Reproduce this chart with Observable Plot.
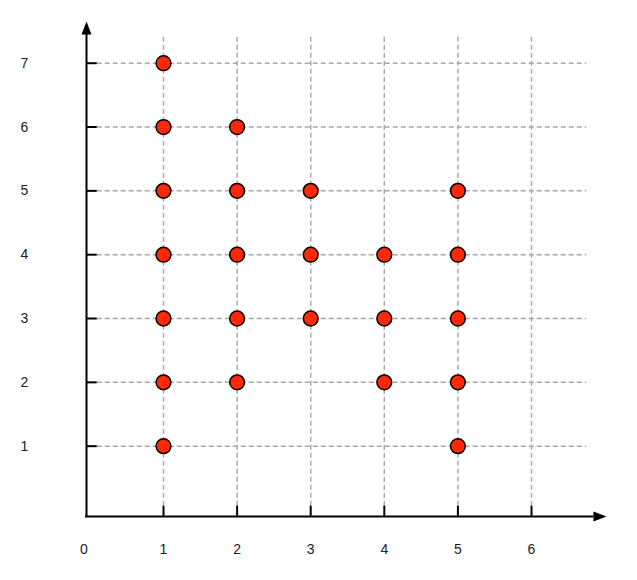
<!DOCTYPE html>
<html>
<head>
<meta charset="utf-8">
<script src="https://cdn.jsdelivr.net/npm/d3@7"></script>
<script src="https://cdn.jsdelivr.net/npm/@observablehq/plot@0.6"></script>
<style>
  html, body { margin: 0; padding: 0; background: #fff; }
  #chart svg { display: block; }
</style>
</head>
<body>
<div id="chart"></div>
<script>
// Data
const pointX = [1,1,1,1,1,1,1, 2,2,2,2,2, 3,3,3, 4,4,4, 5,5,5,5,5];
const pointY = [1,2,3,4,5,6,7, 2,3,4,5,6, 3,4,5, 2,3,4, 1,2,3,4,5];
const xTickLabels = [0, 1, 2, 3, 4, 5, 6];
const yTickLabels = [1, 2, 3, 4, 5, 6, 7];

const points = pointX.map((x, i) => ({x, y: pointY[i]}));
const xGridTicks = xTickLabels.filter(d => d !== 0);
const xZero = xTickLabels.filter(d => d === 0);

// Filled triangle symbol for axis arrows (fixed size)
const arrowHead = {
  draw(context) {
    context.moveTo(0, -6.5);
    context.lineTo(5, 6.5);
    context.lineTo(-5, 6.5);
    context.closePath();
  }
};

const gridStyle = {stroke: "#a8a8a8", strokeWidth: 1.5, strokeDasharray: "5,3"};
const axisColor = "#000";
const axisDx = -3.4;

const chart = Plot.plot({
  width: 637,
  height: 580,
  marginLeft: 89.4,
  marginRight: 32.4,
  marginTop: 62.7,
  marginBottom: 70.5,
  x: {domain: [0, 7], axis: null},
  y: {domain: [0, 7], axis: null},
  style: {fontFamily: "'Liberation Sans', Arial, Helvetica, sans-serif", fontSize: "14px", background: "#fff"},
  marks: [
    // grid
    Plot.ruleY(yTickLabels, {y: d => d, x1: 0.1, x2: 6.75, ...gridStyle}),
    Plot.ruleX(xGridTicks, {x: d => d, y1: 0.06, y2: 7.42, ...gridStyle}),
    // axis lines
    Plot.ruleX([0], {x: d => d, y1: -0.1, y2: 7.45, dx: axisDx, stroke: axisColor, strokeWidth: 2}),
    Plot.ruleY([0], {y: d => d - 0.1, x1: -0.06, x2: 6.85, stroke: axisColor, strokeWidth: 2}),
    // ticks
    Plot.ruleY(yTickLabels, {y: d => d, x1: -0.046, x2: 0.1, stroke: axisColor, strokeWidth: 2}),
    Plot.ruleX(xGridTicks, {x: d => d, y1: -0.1, y2: 0.06, stroke: axisColor, strokeWidth: 2}),
    // arrows
    Plot.dot([0], {x: d => d, y: 7.55, dx: axisDx, symbol: arrowHead, fill: axisColor, stroke: "none"}),
    Plot.dot([0], {x: 6.93, y: d => d - 0.1, rotate: 90, symbol: arrowHead, fill: axisColor, stroke: "none"}),
    // tick labels
    Plot.text(xGridTicks, {x: d => d, text: d => String(d), frameAnchor: "bottom", dy: 40, lineAnchor: "middle", fill: "#222"}),
    Plot.text(xZero, {x: d => d, text: d => String(d), frameAnchor: "bottom", dy: 40, dx: -6, lineAnchor: "middle", fill: "#222"}),
    Plot.text(yTickLabels, {y: d => d, text: d => String(d), frameAnchor: "left", dx: -65.4, textAnchor: "middle", fill: "#222"}),
    // points
    Plot.dot(points, {x: "x", y: "y", r: 7.4, fill: "#ff2a05", stroke: "#000", strokeWidth: 1.5})
  ]
});

document.getElementById("chart").appendChild(chart);
</script>
</body>
</html>
